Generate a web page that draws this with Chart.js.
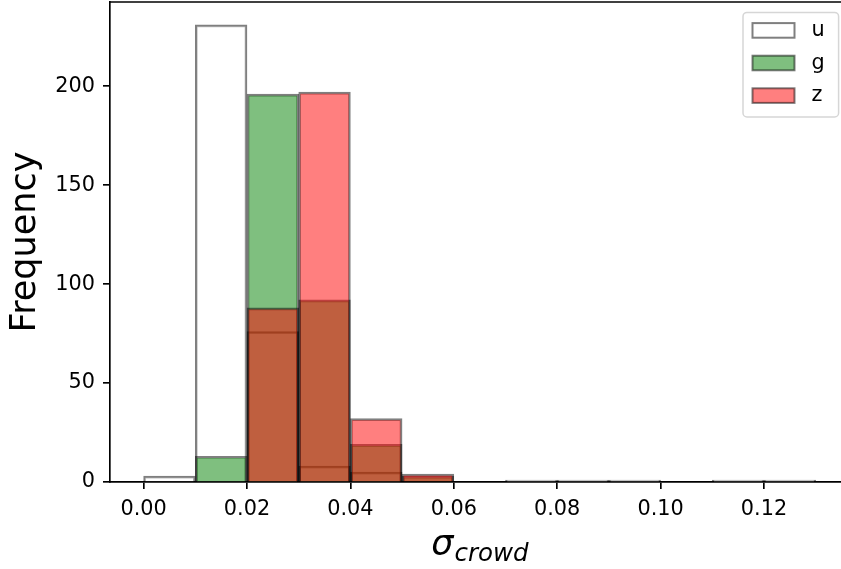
<!DOCTYPE html>
<html><head><meta charset="utf-8">
<script src="https://cdn.jsdelivr.net/npm/chart.js@4.4.0/dist/chart.umd.min.js"></script>
<style>
html,body{margin:0;padding:0;overflow:hidden;background:#fff;width:841px;height:569px;}
#wrap{position:absolute;left:0;top:0;width:841px;height:569px;overflow:hidden;}
canvas{display:block;}
</style></head><body>
<div id="wrap"><canvas id="c"></canvas></div>
<script>
// ---- data ----
const binCenters = [0.005,0.015,0.025,0.035,0.045,0.055,0.065,0.075,0.085,0.095,0.105,0.115,0.125];
const uCounts = [3,231,76,8,5,0,0,1,1,1,0,1,1];
const gCounts = [0,13,196,92,19,3,0,0,0,0,0,0,0];
const zCounts = [0,0,88,197,32,4,0,0,0,0,0,0,0];
const seriesNames = ['u','g','z'];
const xTicks = [0.00,0.02,0.04,0.06,0.08,0.10,0.12];
const yTicks = [0,50,100,150,200];
const xLabelMain = 'σ';
const xLabelSub = 'crowd';
const yLabel = 'Frequency';

const FONT = '"DejaVu Sans", sans-serif';
Chart.defaults.font.family = FONT;
Chart.defaults.color = '#000';

const fills = ['rgba(255,255,255,0.5)','rgba(0,128,0,0.5)','rgba(255,0,0,0.5)'];
const edge = 'rgba(0,0,0,0.5)';
const countsList = [uCounts,gCounts,zCounts];

const datasets = seriesNames.map((name,k)=>({
  label: name,
  data: binCenters.map((x,i)=>({x:x, y:countsList[k][i]})),
  backgroundColor: fills[k],
  borderColor: edge,
  borderWidth: 2,
  borderSkipped: 'start',
  barPercentage: 1.0,
  categoryPercentage: 1.0,
  grouped: false,
  order: 3-k
}));

const axisGrid = {display:true, drawOnChartArea:false, drawTicks:true, tickLength:7,
  color:'#000', tickColor:'#000', lineWidth:1.67, tickWidth:1.67};

function roundedBox(ctx, x, y, w, h, r){
  ctx.beginPath();
  ctx.moveTo(x + r, y);
  ctx.lineTo(x + w - r, y);
  ctx.arcTo(x + w, y, x + w, y + r, r);
  ctx.lineTo(x + w, y + h - r);
  ctx.arcTo(x + w, y + h, x + w - r, y + h, r);
  ctx.lineTo(x + r, y + h);
  ctx.arcTo(x, y + h, x, y + h - r, r);
  ctx.lineTo(x, y + r);
  ctx.arcTo(x, y, x + r, y, r);
  ctx.closePath();
}

const framePlugin = {
  id:'frame',
  afterDraw(chart){
    const ctx = chart.ctx, ca = chart.chartArea;
    ctx.save();
    // top spine (right spine lies just outside the visible area)
    ctx.strokeStyle = '#000'; ctx.lineWidth = 1.67;
    ctx.beginPath();
    ctx.moveTo(ca.left, ca.top); ctx.lineTo(ca.right, ca.top);
    ctx.stroke();
    // legend, anchored to the virtual right edge of the axes
    const fs = 20.8;
    const axRight = ca.right + 8;
    const bw = 95.6, bh = 104.6;
    const bx = axRight - 10.4 - bw, by = ca.top + 10.4;
    roundedBox(ctx, bx, by, bw, bh, 4);
    ctx.fillStyle = 'rgba(255,255,255,0.8)'; ctx.fill();
    ctx.strokeStyle = '#d6d6d6'; ctx.lineWidth = 1.5; ctx.stroke();
    const ds = chart.data.datasets;
    ds.forEach((d,i)=>{
      const cy = by + 18 + i*32.6;
      const hx = bx + 9.5, hw = 42, hh = 14.6;
      ctx.fillStyle = '#fff'; ctx.fillRect(hx, cy-hh/2, hw, hh);
      ctx.fillStyle = d.backgroundColor; ctx.fillRect(hx, cy-hh/2, hw, hh);
      ctx.strokeStyle = d.borderColor; ctx.lineWidth = 2;
      ctx.strokeRect(hx, cy-hh/2, hw, hh);
      ctx.fillStyle = '#000';
      ctx.font = fs + 'px ' + FONT;
      ctx.textAlign = 'left'; ctx.textBaseline = 'alphabetic';
      ctx.fillText(d.label, hx + hw + 17, cy + 5.5);
    });
    // x-axis title with subscript
    ctx.font = 'italic 35px ' + FONT;
    const wS = ctx.measureText(xLabelMain).width;
    ctx.font = 'italic 24.5px ' + FONT;
    const wC = ctx.measureText(xLabelSub).width;
    const cx = (ca.left + axRight)/2;
    const x0 = cx - (wS + wC)/2;
    ctx.fillStyle = '#000'; ctx.textAlign = 'left'; ctx.textBaseline = 'alphabetic';
    ctx.font = 'italic 35px ' + FONT;
    ctx.fillText(xLabelMain, x0, 555);
    ctx.font = 'italic 24.5px ' + FONT;
    ctx.fillText(xLabelSub, x0 + wS + 1, 561);
    ctx.restore();
  }
};

new Chart(document.getElementById('c'), {
  type:'bar',
  data:{datasets},
  options:{
    responsive:true, maintainAspectRatio:false, animation:false,
    layout:{padding:{top:2,right:0,left:0,bottom:0}},
    plugins:{legend:{display:false}, tooltip:{enabled:false}},
    scales:{
      x:{
        type:'linear', min:-0.0065, max:0.1349, offset:false, z:1,
        grid:Object.assign({offset:false}, axisGrid),
        border:{display:true, color:'#000', width:1.67},
        ticks:{font:{size:20.8}, color:'#000', padding:8, maxRotation:0, autoSkip:false,
          callback:(v)=>Number(v).toFixed(2)},
        afterBuildTicks:(s)=>{ s.ticks = xTicks.map(v=>({value:v})); },
        afterFit:(s)=>{ s.height = 87; s.paddingLeft = 0; s.paddingRight = 0; }
      },
      y:{
        type:'linear', min:0, max:242.55, z:1,
        grid:axisGrid,
        border:{display:true, color:'#000', width:1.67},
        ticks:{font:{size:20.8}, color:'#000', padding:8},
        title:{display:true, text:yLabel, font:{size:35}, color:'#000', padding:{top:5,bottom:0}},
        afterBuildTicks:(s)=>{ s.ticks = yTicks.map(v=>({value:v})); },
        afterFit:(s)=>{ s.width = 110; s.paddingTop = 0; s.paddingBottom = 0; }
      }
    }
  },
  plugins:[framePlugin]
});
</script>
</body></html>
